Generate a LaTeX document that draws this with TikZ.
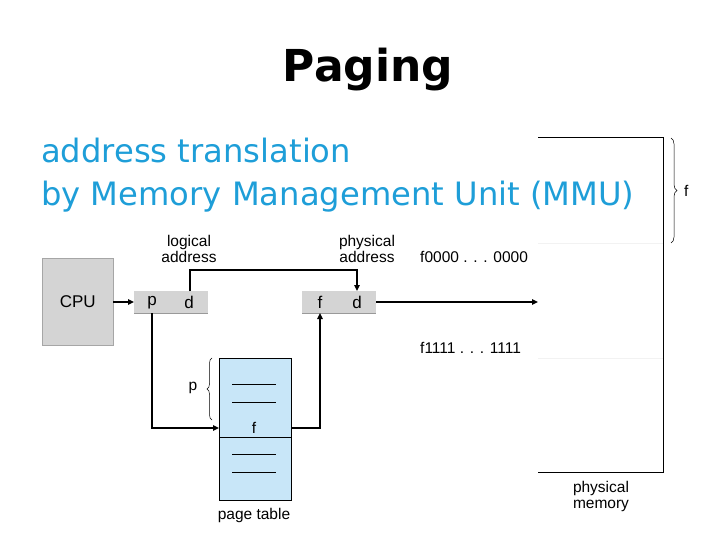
\documentclass[tikz,border=0pt]{standalone}
\usepackage{fontspec}
\setmainfont{Liberation Sans}
\newfontfamily\titlefont{DejaVu Sans}
\usetikzlibrary{arrows.meta,decorations.pathreplacing}
\definecolor{slideblue}{HTML}{1E9ED8}
\definecolor{boxgray}{HTML}{D4D4D4}
\definecolor{tableblue}{HTML}{C8E6F8}
\definecolor{faint}{HTML}{F2F2F2}
\tikzset{
  lbl/.style={font=\fontsize{15.5}{16}\selectfont, inner sep=0pt, align=center},
  big/.style={font=\fontsize{17}{18}\selectfont, inner sep=0pt},
  conn/.style={line width=2.1pt, -{Triangle[length=6pt,width=5.5pt]}},
  addrbox/.style={fill=boxgray, draw=none},
}
\begin{document}
\begin{tikzpicture}[x=1pt,y=-1pt]
\useasboundingbox (0,0) rectangle (720,540);
% physical memory
\draw[faint, line width=0.6pt] (538,243) -- (663,243) (538,358) -- (663,358);
\draw[line width=1pt] (538,138) -- (663,138) -- (663,472) -- (538,472);
\draw[decorate,decoration={brace,amplitude=6pt},line width=0.5pt] (671,138) -- (671,243);
\node[lbl, anchor=west] (flbl) at (684,191) {f};
% title
\node[font=\titlefont\bfseries\fontsize{44}{48}\selectfont, inner sep=0pt] (title) at (368,70) {Paging};
\node[font=\titlefont\fontsize{32.2}{34}\selectfont, text=slideblue, inner sep=0pt, anchor=west] (s1) at (41,150) {address translation};
\node[font=\titlefont\fontsize{32.2}{34}\selectfont, text=slideblue, inner sep=0pt, anchor=west] (s2) at (41,197) {by Memory Management Unit (MMU)};
% CPU
\node[fill=boxgray, draw=gray!70, line width=0.4pt, minimum width=71pt, minimum height=87pt, inner sep=0pt, anchor=north west] (cpu) at (42,258) {};
\node[big] (cputxt) at (cpu.center) {CPU};
% logical address box
\node[addrbox, minimum width=74pt, minimum height=22pt, inner sep=0pt, anchor=north west] (la) at (134,291) {};
\draw[gray!80, line width=0.5pt] (la.south west) -- (la.south east);
\node[big] (lp) at (152,303) {p};
\node[big] (ld) at (189,302) {d};
\node[lbl] (latxt) at (189,249) {logical\\address};
% physical address box
\node[addrbox, minimum width=74pt, minimum height=22pt, inner sep=0pt, anchor=north west] (pa) at (302,291) {};
\draw[gray!80, line width=0.5pt] (pa.south west) -- (pa.south east);
\node[big] (pf) at (320,302) {f};
\node[big] (pd) at (357,302) {d};
\node[lbl] (patxt) at (367,249) {physical\\address};
% page table
\node[fill=tableblue, draw=black, line width=0.6pt, minimum width=72pt, minimum height=142pt, inner sep=0pt, anchor=north west] (pt) at (219,358) {};
\draw[line width=0.6pt] (219,437) -- (291,437);
\draw[line width=0.8pt] (232,384) -- (276,384) (232,402) -- (276,402) (232,454) -- (276,454) (232,472) -- (276,472);
\node[lbl] (ptf) at (254,428) {f};
\node[lbl] (pttxt) at (254,515) {page table};
\draw[decorate,decoration={brace,amplitude=5pt,mirror},line width=0.5pt] (212,358) -- (212,420);
\node[lbl] (pbl) at (193,388) {p};
% coordinates
\coordinate (ptin) at (219,428);
\coordinate (ptout) at (291,428);
\coordinate (memin) at (538,302);
% connectors
\draw[conn] (cpu.east |- 0,302) -- (la.west |- 0,302);
\draw[conn] (190,291) -- (190,270) -- (357,270) -- (357,291);
\draw[conn] (152,313) |- (ptin);
\draw[conn] (ptout) -| (320,313);
\draw[conn] (pa.east |- 0,302) -- (memin);
% memory labels
\node[lbl, anchor=west] (m0) at (420,257) {f0000 . . . 0000};
\node[lbl, anchor=west] (m1) at (420,348) {f1111 . . . 1111};
\node[lbl] (pmtxt) at (601,496) {physical\\memory};
\end{tikzpicture}
\end{document}
